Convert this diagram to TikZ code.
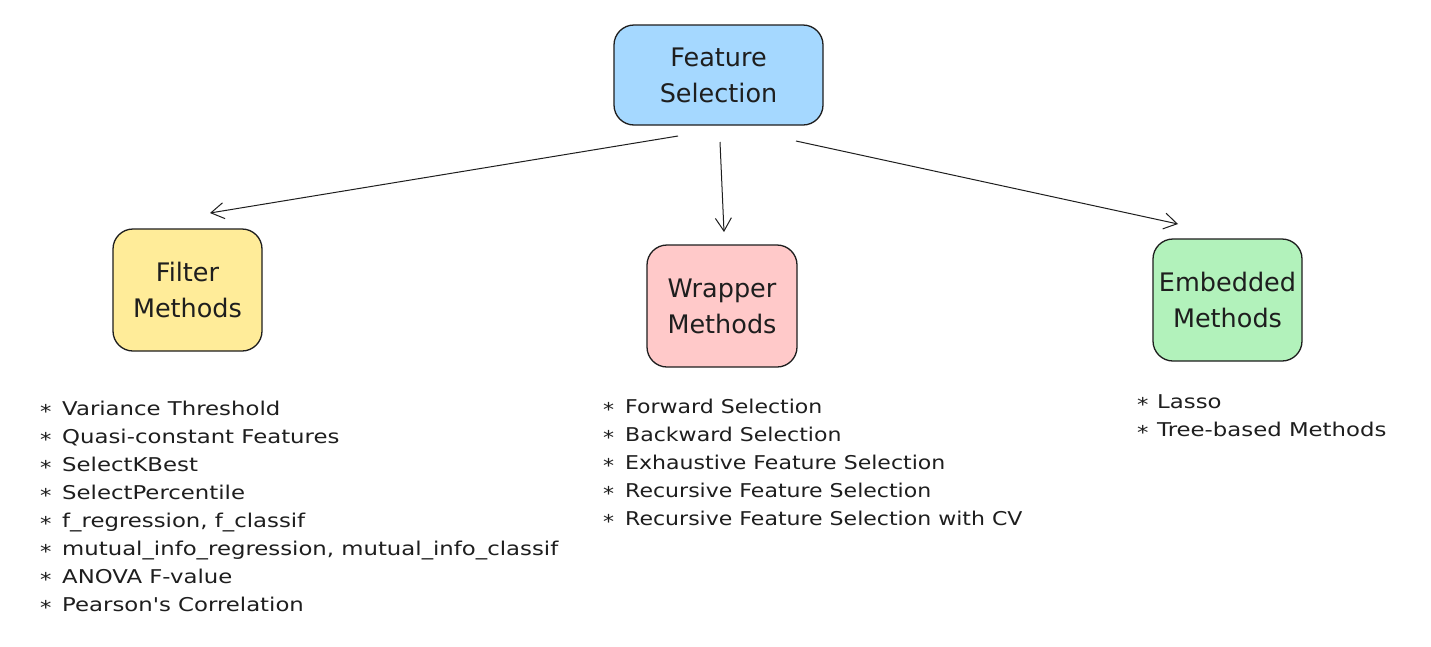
\documentclass[tikz,border=0pt]{standalone}
\usepackage{fontspec}
\setmainfont{DejaVu Sans}
\newfontfamily\hand[FakeStretch=1.2]{DejaVu Sans}
\newfontfamily\handw[FakeStretch=1.16]{DejaVu Sans}
\newfontfamily\boxfont{DejaVu Sans}
\usetikzlibrary{arrows.meta}
\definecolor{ink}{HTML}{1E1E1E}
\definecolor{cblue}{HTML}{A5D8FF}
\definecolor{cyellow}{HTML}{FFEC99}
\definecolor{cpink}{HTML}{FFC9C9}
\definecolor{cgreen}{HTML}{B2F2BB}
\newcommand{\bul}[1]{\makebox[#1][l]{\raisebox{-3pt}{*}}}
\tikzset{
  box/.style={draw=ink, line width=1.3pt, rounded corners=20pt, inner sep=0pt,
    align=center, text=ink, font=\boxfont\fontsize{25.5}{36}\selectfont},
  conn/.style={draw=ink, line width=1pt, -{Straight Barb[length=13pt,width=16pt,line width=1pt]}},
  item/.style={anchor=base west, inner sep=0pt, text=ink, font=\hand\fontsize{19}{28}\selectfont},
  itemw/.style={item, font=\handw\fontsize{19}{28}\selectfont}
}
\begin{document}
\begin{tikzpicture}[x=1pt,y=-1pt]
\useasboundingbox[fill=white] (0,0) rectangle (1431,646);
\node[box, fill=cblue, minimum width=209pt, minimum height=100pt] (fs) at (718.5,75) {Feature\\Selection};
\node[box, fill=cyellow, minimum width=149pt, minimum height=122pt] (fm) at (187.5,290) {Filter\\Methods};
\node[box, fill=cpink, minimum width=150pt, minimum height=122pt] (wm) at (722,306) {Wrapper\\Methods};
\node[box, fill=cgreen, minimum width=149pt, minimum height=122pt] (em) at (1227.5,300) {Embedded\\Methods};
\coordinate (s1) at (678,136);
\coordinate (e1) at (210,213);
\coordinate (s2) at (720,142);
\coordinate (e2) at (724,232);
\coordinate (s3) at (796,141);
\coordinate (e3) at (1178,224);
\draw[conn] (s1) -- (e1);
\draw[conn] (s2) -- (e2);
\draw[conn] (s3) -- (e3);
\foreach \t [count=\i] in {Variance Threshold, Quasi-constant Features, SelectKBest, SelectPercentile, {f\_regression, f\_classif}, {mutual\_info\_regression, mutual\_info\_classif}, ANOVA F-value, Pearson's Correlation}
  \node[item] (f\i) at (40,{415+28*(\i-1)}) {\bul{22pt}\t};
\foreach \t [count=\i] in {Forward Selection, Backward Selection, Exhaustive Feature Selection, Recursive Feature Selection, Recursive Feature Selection with CV}
  \node[itemw] (w\i) at (603,{413+28*(\i-1)}) {\bul{22pt}\t};
\foreach \t [count=\i] in {Lasso, Tree-based Methods}
  \node[item] (m\i) at (1137,{408+28*(\i-1)}) {\bul{20pt}\t};
\end{tikzpicture}
\end{document}
